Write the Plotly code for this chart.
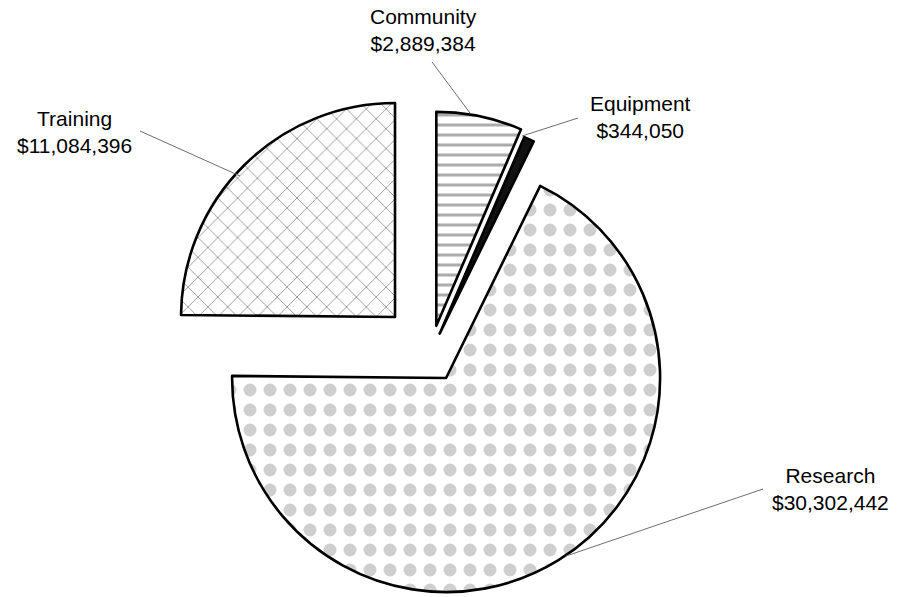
import math
import plotly.graph_objects as go

# ---- data ----
categories = ["Community", "Equipment", "Research", "Training"]
amounts = [2889384, 344050, 30302442, 11084396]
label_text = ["Community<br>$2,889,384", "Equipment<br>$344,050",
              "Research<br>$30,302,442", "Training<br>$11,084,396"]
pulls = [0.13, 0.10, 0.137, 0.237]

# ---- styling ----
W, H = 899, 597
R = 214.0                  # pie radius in px
CX, CY = 430.7, 353.1      # unexploded pie centre (px, from top-left)
fills = ["white", "#111111", "white", "white"]
pat_shape = ["-", "", ".", "x"]
pat_fg = ["#ababab", "#111111", "#cfcfcf", "#6a6a6a"]
pat_size = [10, 10, 20, 14]
pat_solid = [0.3, 0.3, 0.33, 0.09]
TRANSPARENT = "rgba(0,0,0,0)"

total = float(sum(amounts))
fig = go.Figure()
cum = 0.0
for i, (cat, v) in enumerate(zip(categories, amounts)):
    mid = 2 * math.pi * (cum + v / 2) / total
    cum += v
    dx, dy = math.sin(mid), -math.cos(mid)
    cx = CX + pulls[i] * R * dx
    cy = CY + pulls[i] * R * dy
    colors = [TRANSPARENT] * len(amounts)
    colors[i] = fills[i]
    lw = [0] * len(amounts)
    lw[i] = 2.6
    shapes = [""] * len(amounts)
    shapes[i] = pat_shape[i]
    fig.add_trace(go.Pie(
        labels=categories, values=amounts, sort=False, direction="clockwise",
        rotation=0, textinfo="none", hoverinfo="label+value",
        showlegend=False,
        domain=dict(x=[(cx - R) / W, (cx + R) / W],
                    y=[1 - (cy + R) / H, 1 - (cy - R) / H]),
        marker=dict(colors=colors,
                    line=dict(color=["black"] * len(amounts), width=lw),
                    pattern=dict(shape=shapes, fgcolor=pat_fg, bgcolor="white",
                                 size=pat_size, solidity=pat_solid)),
    ))

# label positions (px) and leader lines (px)
label_pos = [(423, 30), (640, 117), (830, 489), (74, 132)]
leaders = [((432, 62), (470, 113)), ((578, 118), (522, 136)),
           ((763, 489), (566, 556)), ((140, 131), (240, 176))]

for (x, y), t in zip(label_pos, label_text):
    fig.add_annotation(x=x / W, y=1 - y / H, xref="paper", yref="paper",
                       xanchor="center", yanchor="middle",
                       text=t, showarrow=False, align="center",
                       font=dict(family="Liberation Sans, Arial, sans-serif",
                                 size=21, color="black"))
for (a, b) in leaders:
    fig.add_shape(type="line", xref="paper", yref="paper",
                  x0=a[0] / W, y0=1 - a[1] / H, x1=b[0] / W, y1=1 - b[1] / H,
                  line=dict(color="#6e6e6e", width=1))

fig.update_layout(width=W, height=H, margin=dict(l=0, r=0, t=0, b=0),
                  paper_bgcolor="white", plot_bgcolor="white")
fig.write_html("out.html", config={"displayModeBar": False},
               post_script="document.body.style.margin='0';"
                           "document.body.style.overflow='hidden';")
